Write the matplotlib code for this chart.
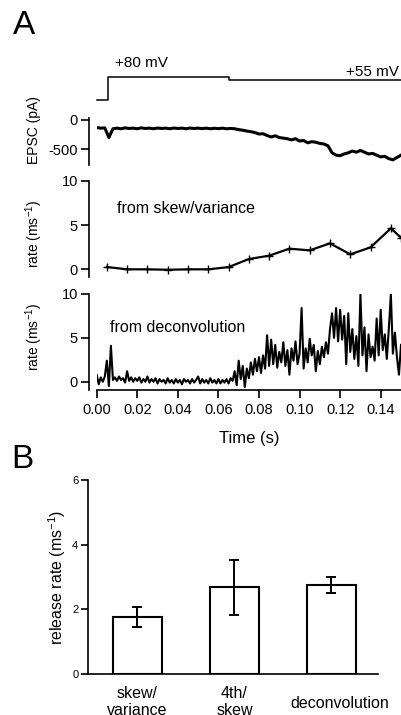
import matplotlib
matplotlib.use("Agg")
import matplotlib.pyplot as plt
import matplotlib.transforms as mtransforms
import numpy as np

plt.rcParams['font.family'] = ['Liberation Sans', 'DejaVu Sans']
plt.rcParams['mathtext.default'] = 'regular'

# ---------------- data ----------------
# voltage protocol (mV)
v_time = [0.0, 0.0055, 0.0055, 0.065, 0.065, 0.15]
v_level = [-80, -80, 80, 80, 55, 55]

# EPSC trace (pA), 2 ms sampling
epsc_time = np.arange(0, 0.1501, 0.002)
epsc_vals = [-130, -140, -135, -300, -150, -140, -150, -135, -145, -140,
             -150, -135, -145, -140, -150, -138, -145, -140, -150, -138,
             -145, -140, -150, -138, -145, -140, -148, -140, -150, -142,
             -148, -140, -150, -145, -150, -165, -175, -190, -200, -215,
             -240, -235, -265, -290, -270, -300, -310, -320, -340, -320,
             -360, -350, -390, -370, -380, -400, -410, -440, -560, -600,
             -610, -580, -560, -530, -550, -520, -550, -580, -570, -600,
             -630, -620, -660, -680, -640, -600]

# release rate from skew/variance (ms^-1)
sv_time = [0.005, 0.015, 0.025, 0.035, 0.045, 0.055, 0.065, 0.075, 0.085,
           0.095, 0.105, 0.115, 0.125, 0.135, 0.145, 0.15]
sv_rate = [0.26, 0.0, 0.0, -0.05, 0.0, 0.0, 0.25, 1.16, 1.54, 2.33, 2.14,
           2.93, 1.69, 2.48, 4.62, 3.57]

# release rate from deconvolution (ms^-1), 1 ms sampling
dc_time = np.arange(0, 0.1505, 0.001)
dc_rate = [0.8, -0.3, 0.5, 0.0, 0.6, 2.4, -0.5, 4.1, 0.2, 0.5,
           0.1, 0.6, 0.2, 0.4, -0.1, 1.2, 0.1, 0.5, 0.0, 0.4,
           0.1, 0.5, -0.1, 0.3, 0.0, 0.6, -0.1, 0.3, 0.0, 0.4,
           -0.2, 0.3, 0.0, 0.2, -0.2, 0.4, -0.1, 0.2, -0.2, 0.3,
           -0.1, 0.2, -0.3, 0.3, 0.0, 0.2, -0.2, 0.3, -0.1, 0.2,
           0.6, -0.2, 0.3, -0.1, 0.2, -0.2, 0.4, -0.1, 0.2, -0.2,
           0.3, -0.2, 0.2, -0.1, 0.3, -0.2, 0.4, 0.1, 1.2, -0.4,
           2.4, 0.3, 1.8, -0.6, 1.5, 0.4, 2.2, 0.8, 2.6, 1.2,
           2.8, 1.0, 3.0, 1.5, 5.3, 1.8, 4.8, 2.0, 4.2, 1.6,
           3.4, 2.2, 4.5, 1.8, 3.6, 0.8, 3.8, 2.4, 4.6, 2.0,
           3.2, 8.4, 1.5, 3.8, 2.2, 4.9, 3.0, 4.2, 1.2, 3.5,
           2.0, 4.0, 2.8, 4.5, 3.2, 6.0, 7.8, 5.0, 8.4, 4.6,
           8.2, 4.8, 7.5, 2.0, 7.8, 3.4, 6.0, 2.6, 5.2, 1.8,
           10.0, 3.0, 6.2, 1.2, 5.4, 2.8, 4.0, 2.4, 7.2, 3.0,
           8.2, 3.6, 5.4, 2.6, 6.0, 10.0, 3.2, 5.6, 2.8, 0.8,
           4.2]

# panel B
methods = ['skew/\nvariance', '4th/\nskew', 'deconvolution']
release_rate = [1.75, 2.68, 2.76]
err_low = [0.29, 0.86, 0.24]
err_high = [0.33, 0.86, 0.24]

# ---------------- layout ----------------
W, H = 402, 715
fig = plt.figure(figsize=(W / 100, H / 100), dpi=100)


def add_ax(x0, y0, x1, y1):
    return fig.add_axes([x0 / W, 1 - y1 / H, (x1 - x0) / W, (y1 - y0) / H])


TICK_FS = 10.5
TXT_FS = 11.5
LAB_FS = 10
XL, XR = 96.7, 401.0


def style_left(ax, yt):
    for s in ['top', 'right', 'bottom']:
        ax.spines[s].set_visible(False)
    ax.spines['left'].set_position(('outward', 5.5))
    ax.spines['left'].set_linewidth(1.2)
    ax.set_yticks(yt)
    ax.tick_params(axis='y', direction='out', length=6, width=1.2,
                   labelsize=TICK_FS, pad=2)
    ax.set_xticks([])
    ax.set_xlim(0, 0.15)
    ax.patch.set_visible(False)


# voltage protocol
axv = add_ax(XL, 76.7, XR, 100)
axv.plot(v_time, v_level, color='black', lw=1.1, clip_on=False)
axv.set_xlim(0, 0.15)
axv.set_ylim(-80, 80)
axv.axis('off')
fig.text(141 / W, 1 - 63 / H, '+80 mV', ha='center', va='center', fontsize=TICK_FS + 0.5)
fig.text(399 / W, 1 - 72 / H, '+55 mV', ha='right', va='center', fontsize=TICK_FS + 0.5)

# EPSC
axe = add_ax(XL, 118.2, XR, 165.1)
axe.plot(epsc_time, epsc_vals, color='black', lw=2.2)
axe.set_ylim(-770, 30)
style_left(axe, [0, -500])
axe.set_yticklabels(['0', '-500'])

# skew/variance
axs = add_ax(XL, 180.7, XR, 277.3)
axs.plot(sv_time, sv_rate, color='black', lw=1.6, marker='+', ms=6, mew=1.0)
axs.set_ylim(-0.9, 10)
style_left(axs, [0, 5, 10])
axs.text(0.01, 6.9, 'from skew/variance', fontsize=TXT_FS, va='center')

# deconvolution
axd = add_ax(XL, 294, XR, 390.5)
axd.plot(dc_time, dc_rate, color='black', lw=1.5)
axd.set_ylim(-1, 10)
style_left(axd, [0, 5, 10])
axd.spines['bottom'].set_visible(True)
axd.spines['bottom'].set_linewidth(1.2)
xt = np.arange(0, 0.141, 0.02)
axd.set_xticks(xt)
axd.set_xticklabels(['%.2f' % t for t in xt])
axd.tick_params(axis='x', direction='out', length=6, width=1.2,
                labelsize=TICK_FS, pad=3)
axd.set_xlabel('Time (s)', fontsize=TXT_FS + 0.5, labelpad=10)
axd.text(0.0065, 6.2, 'from deconvolution', fontsize=TXT_FS, va='center')

# y labels for panel A
fig.text(34 / W, 1 - 130 / H, 'EPSC (pA)', rotation=90, ha='center',
         va='center', fontsize=LAB_FS)
fig.text(34 / W, 1 - 234 / H, 'rate (ms$^{-1}$)', rotation=90, ha='center',
         va='center', fontsize=LAB_FS)
fig.text(34 / W, 1 - 337 / H, 'rate (ms$^{-1}$)', rotation=90, ha='center',
         va='center', fontsize=LAB_FS)

fig.text(13 / W, 1 - 26 / H, 'A', fontsize=24, ha='left', va='center')
fig.text(11 / W, 1 - 459 / H, 'B', fontsize=24, ha='left', va='center')

# panel B
axb = add_ax(88, 480, 378, 674)
x = np.arange(len(methods))
axb.bar(x, release_rate, width=0.5, color='white', edgecolor='black', lw=1.5,
        yerr=[err_low, err_high], capsize=3.5,
        error_kw=dict(elinewidth=1.4, capthick=1.4, ecolor='black'))
axb.set_xlim(-0.51, 2.48)
axb.set_ylim(0, 6)
for s in ['top', 'right']:
    axb.spines[s].set_visible(False)
axb.spines['left'].set_linewidth(1.2)
axb.spines['bottom'].set_linewidth(1.2)
axb.set_yticks([0, 2, 4, 6])
axb.tick_params(axis='y', direction='out', length=5, width=1.2,
                labelsize=8, pad=2)
axb.set_xticks(x)
axb.set_xticklabels(methods, fontsize=TXT_FS, linespacing=1.1)
axb.tick_params(axis='x', length=0, pad=9)
lab = axb.get_xticklabels()[2]
lab.set_transform(lab.get_transform() +
                  mtransforms.ScaledTranslation(8 / 100, -10 / 100,
                                                fig.dpi_scale_trans))
axb.set_ylabel('release rate (ms$^{-1}$)', fontsize=TXT_FS, labelpad=3)

fig.savefig('out.png', dpi=100)
